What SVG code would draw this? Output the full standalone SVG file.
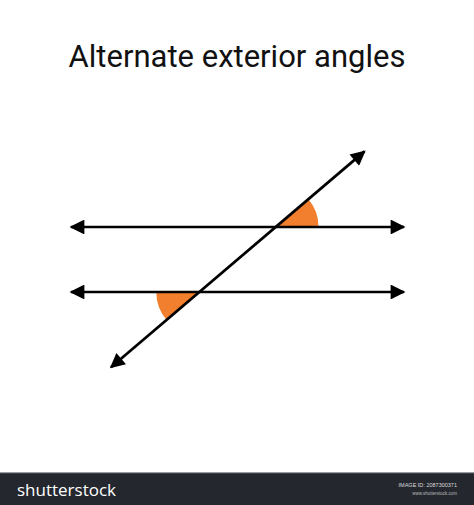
<svg xmlns="http://www.w3.org/2000/svg" width="474" height="505" viewBox="0 0 474 505">
  <style>
    .ln { stroke: #000; stroke-width: 2.7; fill: none; }
    .ang { fill: #f27f2e; }
    .title { font-family: Roboto, "Liberation Sans", sans-serif; font-size: 31px; fill: #111; }
  </style>
  <defs>
    <marker id="ah" viewBox="0 0 10 10" refX="9" refY="5" markerWidth="8" markerHeight="5.5" markerUnits="strokeWidth" orient="auto-start-reverse">
      <path d="M0,0 L10,5 L0,10 z" fill="#000"/>
    </marker>
  </defs>
  <rect width="474" height="505" fill="#fff"/>
  <text class="title" x="237" y="67" text-anchor="middle">Alternate exterior angles</text>

  <g id="angle-top"><path class="ang" d="M275.5,227 L318.5,227 A43,43 0 0 0 308.3,199.1 Z"/></g>
  <g id="angle-bottom"><path class="ang" d="M199.3,292 L156.3,292 A43,43 0 0 0 166.5,319.9 Z"/></g>

  <g id="connectors">
    <line id="line-top" class="ln" x1="71" y1="227" x2="404" y2="227" marker-start="url(#ah)" marker-end="url(#ah)"/>
    <line id="line-bottom" class="ln" x1="71" y1="292" x2="404" y2="292" marker-start="url(#ah)" marker-end="url(#ah)"/>
    <line id="transversal" class="ln" x1="111" y1="367.2" x2="364.5" y2="151.4" marker-start="url(#ah)" marker-end="url(#ah)"/>
  </g>

  <g id="footer">
    <rect x="0" y="473" width="474" height="32" fill="#24272e"/>
    <rect x="0" y="472" width="474" height="1.2" fill="#9a9ca0"/>
    <text x="17" y="496" font-family="'Open Sans', 'Liberation Sans', sans-serif" font-size="17" fill="#fff">shutterstock</text>
    <text x="457" y="487" text-anchor="end" font-family="'Liberation Sans', sans-serif" font-size="5.5" fill="#ddd">IMAGE ID: 2087300371</text>
    <text x="457" y="495" text-anchor="end" font-family="'Liberation Sans', sans-serif" font-size="4.5" fill="#bbb">www.shutterstock.com</text>
  </g>
</svg>
